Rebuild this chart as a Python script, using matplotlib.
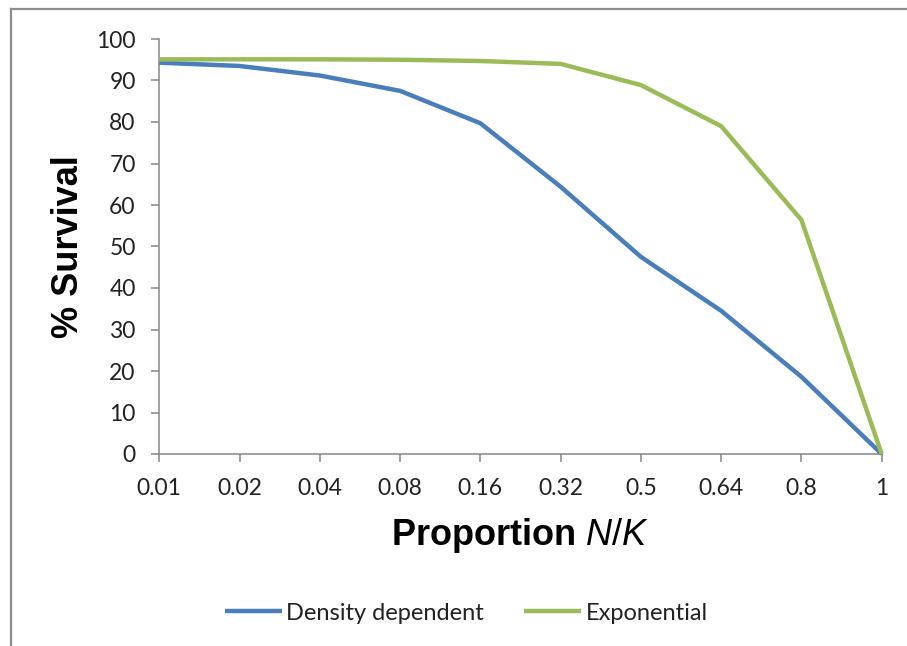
import matplotlib
matplotlib.use("Agg")
import matplotlib.pyplot as plt
from matplotlib.lines import Line2D

plt.rcParams["mathtext.fontset"] = "custom"
plt.rcParams["mathtext.it"] = "Liberation Sans:italic"
plt.rcParams["mathtext.rm"] = "Liberation Sans"

categories = ["0.01", "0.02", "0.04", "0.08", "0.16", "0.32", "0.5", "0.64", "0.8", "1"]
density_dependent = [94.3, 93.5, 91.2, 87.5, 79.7, 64.4, 47.5, 34.5, 18.6, 0]
exponential = [95.1, 95.1, 95.1, 95.0, 94.7, 94.0, 88.9, 79.0, 56.4, 0]
y_ticks = list(range(0, 101, 10))

W, H = 907, 646
fig = plt.figure(figsize=(W / 100, H / 100), dpi=100)

x0, x1 = 159.3, 881.7
y0, y1 = 454, 39
ax = fig.add_axes([x0 / W, 1 - y0 / H, (x1 - x0) / W, (y0 - y1) / H])

xs = list(range(len(categories)))
blue = "#4A7EBB"
green = "#9BBB59"
ax.plot(xs, density_dependent, color=blue, lw=3.2, solid_joinstyle="round",
        solid_capstyle="butt", label="Density dependent", clip_on=False, zorder=3)
ax.plot(xs, exponential, color=green, lw=3.2, solid_joinstyle="round",
        solid_capstyle="butt", label="Exponential", clip_on=False, zorder=3)

ax.set_xlim(0, len(categories) - 1)
ax.set_ylim(0, 100)
ax.set_xticks(xs)
ax.set_xticklabels(categories)
ax.set_yticks(y_ticks)

gray = "#868686"
for s in ["top", "right"]:
    ax.spines[s].set_visible(False)
for s in ["left", "bottom"]:
    ax.spines[s].set_color(gray)
    ax.spines[s].set_linewidth(1.1)

ax.tick_params(axis="both", direction="out", length=6, width=1.1, color=gray,
               labelsize=16.5, labelcolor="#222222", pad=11)
for lab in ax.get_xticklabels() + ax.get_yticklabels():
    lab.set_fontfamily(["Lato", "DejaVu Sans"])

ax.set_xlabel("Proportion $\\mathit{N/K}$", fontsize=26, fontweight="bold",
              fontfamily="Liberation Sans", va="baseline")
ax.xaxis.set_label_coords((520.5 - x0) / (x1 - x0), (y0 - 545) / (y0 - y1))
ax.set_ylabel("% Survival", fontsize=26, fontweight="bold",
              fontfamily="Liberation Sans", va="baseline")
ax.yaxis.set_label_coords((78 - x0) / (x1 - x0), 0.5)

leg = fig.legend(loc="center", bbox_to_anchor=(466.5 / W, 1 - 613 / H), ncol=2,
                 frameon=False, handlelength=2.4, handletextpad=0.2,
                 columnspacing=1.7, prop={"family": "Lato", "size": 17})
for t in leg.get_texts():
    t.set_color("#222222")

border = "#8C8C8C"
fig.add_artist(Line2D([11 / W, 11 / W], [0, 1 - 9 / H], color=border, lw=1.6,
                      transform=fig.transFigure))
fig.add_artist(Line2D([11 / W, 1], [1 - 9 / H, 1 - 9 / H], color=border, lw=1.6,
                      transform=fig.transFigure))

fig.savefig("out.png", dpi=100)
